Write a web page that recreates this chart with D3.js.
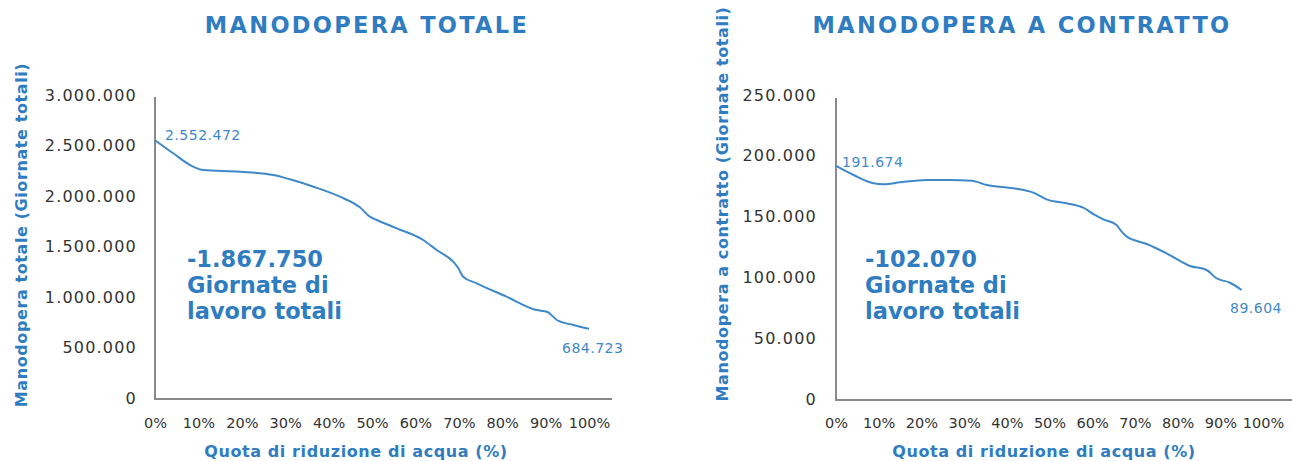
<!DOCTYPE html>
<html><head><meta charset="utf-8">
<script src="https://cdn.jsdelivr.net/npm/d3@7"></script>
<style>
body{margin:0;background:#fff;}
svg{display:block;font-family:"DejaVu Sans",sans-serif;}
</style></head>
<body><svg id="c" width="1292" height="461"></svg>
<script>
// ---- data ----
const xTicks = [0,10,20,30,40,50,60,70,80,90,100];
const totX = [0,4.2,8.8,11.1,19.6,27.3,31.1,36.5,42.6,47.2,49.5,51.1,55.7,61.8,64.9,68.7,69.9,71.0,74.1,81.0,87.9,90.3,92.6,96.4,100];
const totY = [2552472,2422800,2290000,2257400,2240600,2207900,2165300,2092100,1993100,1888100,1795000,1762400,1680200,1564400,1465300,1349500,1284200,1201000,1135600,1003000,871300,854500,772300,722800,684723];
const conX = [0,4.1,8.8,11.1,15.0,21.2,26.7,31.8,35.3,41.5,46.2,49.3,54.0,57.9,60.3,62.6,65.7,66.9,68.1,72.8,77.4,82.9,86.8,89.1,92.3,95.0];
const conY = [191674,184200,177400,176600,178200,180100,180100,179500,176000,173300,169700,164200,160900,157300,152100,147800,143100,137600,133500,127500,119800,109400,106100,99300,95600,89604];
const totTicks = [0,500000,1000000,1500000,2000000,2500000,3000000];
const conTicks = [0,50000,100000,150000,200000,250000];
const titles = ["MANODOPERA TOTALE","MANODOPERA A CONTRATTO"];
const yTitles = ["Manodopera totale (Giornate totali)","Manodopera a contratto (Giornate totali)"];
const xTitle = "Quota di riduzione di acqua (%)";
const bigNums = ["-1.867.750","-102.070"];
const bigSub = ["Giornate di","lavoro totali"];

const BLUE="#2f7dc0", LINE="#3f89c9", GREY="#8a8a8a", DARK="#333";
const fmt = d => d3.format(",")(d).replace(/,/g,".");
const svg = d3.select("#c");

const panels = [
  {xs:totX, ys:totY, ticks:totTicks, max:3000000, x0:155, x100:589, xEnd:612, yTop:97, y0:398, yMax:95,
   tickRight:137, ylabX:27, title:titles[0], titleX:367, ytitle:yTitles[0], ytitleY:235, xtitleX:356,
   startLab:[165,135], endLab:[562,348], big:[187,267]},
  {xs:conX, ys:conY, ticks:conTicks, max:250000, x0:836, x100:1263, xEnd:1292, yTop:98, y0:399, yMax:95,
   tickRight:817, ylabX:728, title:titles[1], titleX:1022, ytitle:yTitles[1], ytitleY:204, xtitleX:1044,
   startLab:[842,162], endLab:[1230,308], big:[865,267]}
];

panels.forEach((p,pi)=>{
  const x = d3.scaleLinear().domain([0,100]).range([p.x0,p.x100]);
  const y = d3.scaleLinear().domain([0,p.max]).range([p.y0,p.yMax]);
  const g = svg.append("g");
  // title
  g.append("text").attr("x",p.titleX).attr("y",33).attr("text-anchor","middle")
    .attr("font-size",22.5).attr("font-weight","bold").attr("fill",BLUE).attr("letter-spacing",2.3)
    .text(p.title);
  // axes frame
  g.append("line").attr("x1",p.x0).attr("x2",p.x0).attr("y1",p.yTop).attr("y2",p.y0+1)
    .attr("stroke",GREY).attr("stroke-width",2);
  g.append("line").attr("x1",p.x0-1).attr("x2",p.xEnd).attr("y1",p.y0+1).attr("y2",p.y0+1)
    .attr("stroke",GREY).attr("stroke-width",2);
  // y axis labels
  const ya = d3.axisLeft(y).tickValues(p.ticks).tickSize(0).tickPadding(0).tickFormat(fmt);
  const yg = g.append("g").attr("transform",`translate(${p.tickRight},0)`).call(ya);
  yg.select(".domain").remove();
  yg.selectAll("text").attr("font-size",16).attr("fill",DARK).attr("letter-spacing",1.2)
    .attr("font-family","'DejaVu Sans',sans-serif");
  // x axis labels
  const xa = d3.axisBottom(x).tickValues(xTicks).tickSize(0).tickPadding(0).tickFormat(d=>d+"%");
  const xg = g.append("g").attr("transform",`translate(0,${418})`).call(xa);
  xg.select(".domain").remove();
  xg.selectAll("text").attr("font-size",14.5).attr("fill",DARK)
    .attr("font-family","'DejaVu Sans',sans-serif");
  // axis titles
  g.append("text").attr("transform",`translate(${p.ylabX},${p.ytitleY}) rotate(-90)`)
    .attr("text-anchor","middle").attr("font-size",16).attr("font-weight","bold").attr("fill",BLUE)
    .attr("letter-spacing",0.6).text(p.ytitle);
  g.append("text").attr("x",p.xtitleX).attr("y",457).attr("text-anchor","middle")
    .attr("font-size",16).attr("font-weight","bold").attr("fill",BLUE)
    .attr("letter-spacing",0.6).text(xTitle);
  // line
  const data = p.xs.map((d,i)=>[d,p.ys[i]]);
  g.append("path").datum(data).attr("fill","none").attr("stroke",LINE).attr("stroke-width",2)
    .attr("d",d3.line().x(d=>x(d[0])).y(d=>y(d[1])).curve(d3.curveMonotoneX));
  // value labels
  g.append("text").attr("x",p.startLab[0]).attr("y",p.startLab[1]+5).attr("font-size",14)
    .attr("letter-spacing",0.5).attr("fill",LINE).text(fmt(p.ys[0]));
  g.append("text").attr("x",p.endLab[0]).attr("y",p.endLab[1]+5).attr("font-size",14)
    .attr("letter-spacing",0.5).attr("fill",LINE).text(fmt(p.ys[p.ys.length-1]));
  // big annotation (three separate lines)
  [bigNums[pi]].concat(bigSub).forEach((s,i)=>{
    g.append("text").attr("x",p.big[0]).attr("y",p.big[1]+i*26).attr("font-size",22.5)
      .attr("font-weight","bold").attr("fill",BLUE).text(s);
  });
});
</script></body></html>
